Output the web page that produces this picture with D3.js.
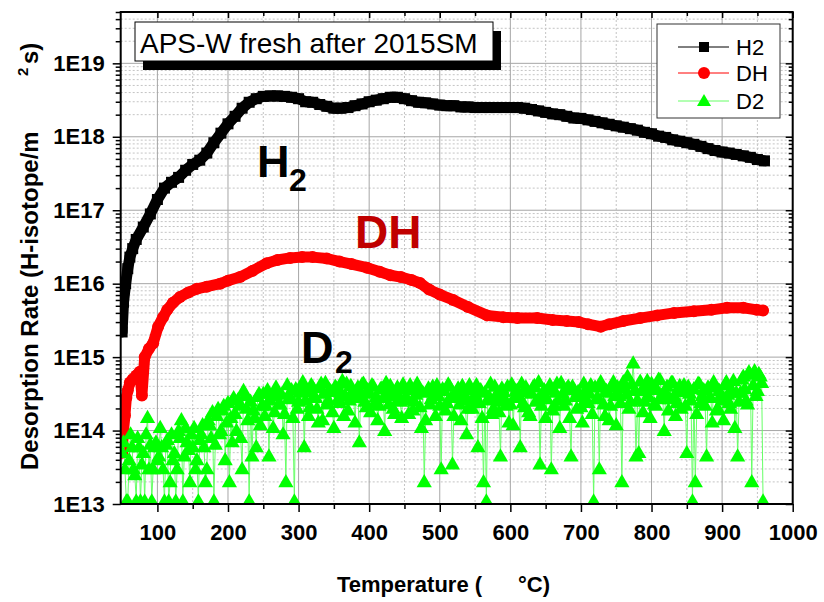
<!DOCTYPE html>
<html><head><meta charset="utf-8">
<script src="https://cdn.jsdelivr.net/npm/d3@7"></script>
<style>body{margin:0;background:#fff;} svg{display:block;font-family:Arial,"Liberation Sans",sans-serif;}</style>
</head><body><svg id="c" width="824" height="602"></svg>
<script>
// ---------- data ----------
const h2Temp = [50,52,55,58,61,65,70,80,90,100,110,120,130,140,150,160,170,180,190,200,210,220,230,240,250,260,270,280,290,300,310,320,330,340,350,360,370,380,390,400,410,420,430,440,450,460,470,480,490,500,510,520,530,540,550,560,570,580,590,600,610,620,630,640,650,660,670,680,690,700,710,720,730,740,750,760,770,780,790,800,810,820,830,840,850,860,870,880,890,900,910,920,930,940,950,960];
const h2Rate = [2.2e15,5.6e15,1.0e16,1.6e16,2.3e16,3.0e16,4.0e16,5.9e16,8.9e16,1.4e17,2.0e17,2.4e17,2.8e17,3.5e17,4.2e17,4.8e17,6.0e17,8.3e17,1.12e18,1.5e18,1.9e18,2.45e18,2.95e18,3.3e18,3.55e18,3.6e18,3.6e18,3.55e18,3.45e18,3.3e18,3.0e18,2.95e18,2.75e18,2.6e18,2.45e18,2.45e18,2.5e18,2.65e18,2.8e18,3.0e18,3.15e18,3.3e18,3.45e18,3.45e18,3.3e18,3.1e18,2.95e18,2.9e18,2.8e18,2.7e18,2.65e18,2.65e18,2.55e18,2.55e18,2.5e18,2.5e18,2.5e18,2.5e18,2.5e18,2.5e18,2.5e18,2.45e18,2.35e18,2.25e18,2.15e18,2.05e18,2.0e18,1.9e18,1.8e18,1.78e18,1.7e18,1.62e18,1.55e18,1.48e18,1.41e18,1.35e18,1.29e18,1.23e18,1.15e18,1.1e18,1.02e18,9.8e17,9.1e17,8.7e17,8.3e17,7.9e17,7.4e17,6.9e17,6.5e17,6.2e17,6.0e17,5.75e17,5.5e17,5.25e17,4.9e17,4.7e17];

const dhTemp = [50,52,54,56,58,61,65,70,75,78,82,88,94,101,108,114,122,132,144,156,170,189,200,217,235,255,270,288,305,320,340,358,375,397,415,430,445,460,472,485,500,519,540,567,590,610,638,660,680,697,710,728,740,760,784,808,832,860,885,907,930,949,958];
const dhRate = [5.0e13,1.0e14,1.6e14,2.8e14,3.5e14,4.5e14,5.0e14,5.6e14,6.3e14,3.0e14,1.0e15,1.3e15,1.55e15,2.6e15,3.5e15,4.4e15,5.5e15,6.6e15,7.6e15,8.5e15,9.1e15,1.0e16,1.1e16,1.23e16,1.5e16,1.9e16,2.1e16,2.24e16,2.3e16,2.3e16,2.2e16,2.0e16,1.85e16,1.65e16,1.45e16,1.3e16,1.23e16,1.12e16,1.02e16,8.3e15,7.1e15,6.0e15,4.8e15,3.7e15,3.5e15,3.4e15,3.4e15,3.2e15,3.1e15,3.0e15,2.8e15,2.6e15,2.8e15,3.1e15,3.4e15,3.7e15,4.0e15,4.2e15,4.4e15,4.7e15,4.7e15,4.4e15,4.3e15];

// D2 readings (two interleaved sets of the same measured series)
const d2TempA = [50,54,58,62,66,70,74,78,82,86,90,94,98,102,106,110,114,118,122,126,130,134,138,142,146,
150,154,158,162,166,170,174,178,182,186,190,194,198,202,206,210,214,218,222,226,230,234,238,242,246,
250,254,258,262,266,270,274,278,282,286,290,294,298,302,306,310,314,318,322,326,330,334,338,342,346,
350,354,358,362,366,370,374,378,382,386,390,394,398,402,406,410,414,418,422,426,430,434,438,442,446,
450,454,458,462,466,470,474,478,482,486,490,494,498,502,506,510,514,518,522,526,530,534,538,542,546,
550,554,558,562,566,570,574,578,582,586,590,594,598,602,606,610,614,618,622,626,630,634,638,642,646,
650,654,658,662,666,670,674,678,682,686,690,694,698,702,706,710,714,718,722,726,730,734,738,742,746,
750,754,758,762,766,770,774,778,782,786,790,794,798,802,806,810,814,818,822,826,830,834,838,842,846,
850,854,858,862,866,870,874,878,882,886,890,894,898,902,906,910,914,918,922,926,930,934,938,942,946,950,954,958];
const d2RateA = [5e13,3e13,1.1e13,9e13,3e13,1.1e13,6e13,3.5e13,1.1e13,1.5e14,6.5e13,3e13,7e13,4.5e13,6e13,1.1e13,7.5e13,2e13,4e13,1.1e13,1.0e14,1.4e14,4.5e13,7e13,2e13,
6e13,3e13,1.1e13,9e13,6e13,3e13,1.2e14,1.8e14,6.5e13,2.0e14,1.0e14,2.2e14,1.3e14,2e13,7e13,1.7e14,2.6e14,8e13,3.5e14,2.0e14,1.1e13,4.5e13,1.5e14,2.9e14,1.2e14,
3.2e14,2.2e14,4.5e13,3.0e14,1.8e14,3.4e14,2.3e14,9e13,2e13,2.7e14,3.6e14,1.1e13,2.0e14,3.3e14,4.6e14,2.6e14,1.6e14,4.2e14,3.0e14,2.0e14,3.8e14,1.4e14,4.5e14,2.6e14,3.4e14,
1.1e14,3.8e14,2.4e14,4.8e14,3.0e14,1.9e14,4.1e14,2.8e14,3.5e14,7e13,4.3e14,2.5e14,3.6e14,1.8e14,4.0e14,2.9e14,2.2e14,3.8e14,1.0e14,3.3e14,4.1e14,2.0e14,3.5e14,2.7e14,1.5e14,
3.7e14,2.6e14,4.2e14,1.9e14,3.1e14,3.9e14,1.1e14,2e13,3.4e14,2.3e14,4.0e14,1.6e14,3.0e14,3e13,3.5e14,2.4e14,4.0e14,3.5e13,2.8e14,3.8e14,1.4e14,2.6e14,9e13,4.2e14,2.0e14,
3.1e14,6e13,3.6e14,2e13,1.1e13,2.9e14,1.7e14,4.0e14,2.5e14,4.5e13,3.4e14,2.2e14,1.3e14,4.3e14,2.8e14,3.5e14,6e13,2.4e14,3.9e14,1.8e14,3.2e14,4.1e14,2.6e14,3.5e13,3.0e14,
1.5e14,3.7e14,3e13,2.2e14,4.4e14,1.1e14,3.2e14,2.6e14,4.0e14,4.5e13,3.6e14,2.0e14,3.0e14,1.3e14,3.5e14,2.4e14,4.2e14,1.1e13,2.7e14,3e13,4.0e14,1.6e14,3.3e14,2.2e14,4.6e14,
1.2e14,3.0e14,2e13,3.8e14,5.5e14,2.5e14,8.3e14,4.5e13,5e13,3.5e14,2.5e14,4.8e14,1.5e14,3.7e14,2.2e14,5.0e14,3.0e14,1.0e14,4.0e14,2.7e14,4.5e14,1.6e14,3.4e14,2.0e14,4.2e14,
5e13,3.2e14,1.1e13,2e13,4.4e14,2.4e14,3.6e14,4.5e13,2.8e14,1.3e14,4.0e14,2.0e14,3.0e14,1.4e14,4.6e14,2.4e14,3.5e14,1.1e14,4.5e13,3.3e14,5.5e14,2.6e14,6.3e14,2e13,6.5e14,3.5e14,5.5e14,1.1e13];
const d2TempB = [52,56,60,64,68,72,76,80,84,88,92,96,100,104,108,112,116,120,124,128,132,136,140,144,148,
152,156,160,164,168,172,176,180,184,188,192,196,200,204,208,212,216,220,224,228,232,236,240,244,248,
252,256,260,264,268,272,276,280,284,288,292,296,300,304,308,312,316,320,324,328,332,336,340,344,348,
352,356,360,364,368,372,376,380,384,388,392,396,400,404,408,412,416,420,424,428,432,436,440,444,448,
452,456,460,464,468,472,476,480,484,488,492,496,500,504,508,512,516,520,524,528,532,536,540,544,548,
552,556,560,564,568,572,576,580,584,588,592,596,600,604,608,612,616,620,624,628,632,636,640,644,648,
652,656,660,664,668,672,676,680,684,688,692,696,700,704,708,712,716,720,724,728,732,736,740,744,748,
752,756,760,764,768,772,776,780,784,788,792,796,800,804,808,812,816,820,824,828,832,836,840,844,848,
852,856,860,864,868,872,876,880,884,888,892,896,900,904,908,912,916,920,924,928,932,936,940,944,948,952,956];
const d2RateB = [7e13,1.1e13,4e13,6e13,2.5e13,8e13,1.1e13,5e13,9e13,3e13,1.1e13,6e13,4e13,1.1e14,3e13,6.5e13,1.1e13,9e13,5e13,3e13,8e13,1.1e13,1.1e14,5.5e13,9e13,
1.1e14,4e13,7.5e13,1.2e14,2e13,1.4e14,8e13,1.1e13,1.6e14,9e13,1.9e14,4e13,2.4e14,1.5e14,2.8e14,1.0e14,2.2e14,3e13,3.0e14,1.4e14,2.5e14,1.9e14,6e13,3.2e14,2.2e14,
1.6e14,3.6e14,2.6e14,1.1e14,3.9e14,2.3e14,3.1e14,1.7e14,4.2e14,2.9e14,1.5e14,3.7e14,2.5e14,4.0e14,6e13,3.4e14,2.1e14,3.9e14,2.8e14,1.3e14,4.4e14,3.2e14,2.3e14,3.6e14,1.8e14,
4.0e14,2.7e14,3.3e14,1.6e14,4.4e14,2.6e14,3.4e14,1.3e14,3.9e14,2.9e14,4.4e14,2.1e14,3.2e14,4.2e14,2.4e14,1.4e14,3.7e14,2.8e14,4.5e14,2.3e14,3.0e14,1.7e14,3.9e14,2.5e14,4.3e14,
2.9e14,1.7e14,3.6e14,2.5e14,4.4e14,2.1e14,3.3e14,1.4e14,3.8e14,2.7e14,3.1e14,4.2e14,2.2e14,3.7e14,1.9e14,4.3e14,2.8e14,1.6e14,3.4e14,2.3e14,4.1e14,3.0e14,2.0e14,3.6e14,2.7e14,
4.2e14,2.4e14,1.5e14,3.3e14,2.6e14,4.4e14,2.0e14,3.1e14,1.8e14,3.8e14,2.7e14,4.0e14,2.3e14,1.2e14,3.5e14,2.8e14,4.4e14,2.1e14,3.4e14,1.6e14,3.9e14,2.5e14,4.6e14,2.2e14,3.6e14,
2.7e14,4.2e14,1.9e14,3.3e14,2.6e14,4.5e14,2.2e14,3.7e14,1.5e14,4.0e14,2.9e14,3.4e14,2.1e14,4.4e14,2.6e14,3.2e14,1.7e14,3.9e14,2.8e14,4.6e14,2.3e14,3.5e14,1.4e14,4.1e14,3.0e14,
3.9e14,2.4e14,4.6e14,3.1e14,2.0e14,4.3e14,3.5e14,2.6e14,4.7e14,1.8e14,3.8e14,2.9e14,4.4e14,2.3e14,3.6e14,4.9e14,2.7e14,3.3e14,1.9e14,4.5e14,3.0e14,2.4e14,4.1e14,3.4e14,2.2e14,
4.0e14,2.6e14,3.7e14,1.7e14,4.3e14,3.0e14,2.2e14,3.9e14,2.8e14,4.6e14,1.9e14,3.5e14,2.6e14,4.2e14,3.1e14,2.0e14,4.8e14,3.3e14,2.5e14,5.0e14,3.7e14,2.3e14,5.8e14,4.2e14,3.0e14,6.0e14,4.5e14];

const xTickValues = [100,200,300,400,500,600,700,800,900,1000];
const xMinorValues = [150,250,350,450,550,650,750,850,950];
const yTickValues = [1e13,1e14,1e15,1e16,1e17,1e18,1e19];
const yTickLabels = ["1E13","1E14","1E15","1E16","1E17","1E18","1E19"];
const seriesNames = ["H2","DH","D2"];
const seriesColors = ["#000000","#ff0000","#00ff00"];

// ---------- layout ----------
const W=824,H=602;
const L=120.7,R=792.7,T=12,B=504;
const x=d3.scaleLinear().domain([48,1000]).range([L,R]);
const y=d3.scaleLog().domain([1e13,5e19]).range([B,T]);
const svg=d3.select("#c");
svg.append("rect").attr("width",W).attr("height",H).attr("fill","#fff");

const yMinor=[];
yTickValues.forEach(d=>{for(let k=2;k<=9;k++){const v=k*d; if(v<=5e19) yMinor.push(v);}});

// grid
const grid=svg.append("g");
grid.selectAll(".gmy").data(yMinor).join("line")
  .attr("x1",L).attr("x2",R).attr("y1",d=>y(d)).attr("y2",d=>y(d))
  .attr("stroke","#c4c4c4").attr("stroke-width",1).attr("stroke-dasharray","2,2");
grid.selectAll(".gmx").data(xMinorValues).join("line")
  .attr("y1",T).attr("y2",B).attr("x1",d=>x(d)).attr("x2",d=>x(d))
  .attr("stroke","#c4c4c4").attr("stroke-width",1).attr("stroke-dasharray","2,2");
grid.selectAll(".gMy").data(yTickValues).join("line")
  .attr("x1",L).attr("x2",R).attr("y1",d=>y(d)).attr("y2",d=>y(d))
  .attr("stroke","#a6a6a6").attr("stroke-width",1);
grid.selectAll(".gMx").data(xTickValues).join("line")
  .attr("y1",T).attr("y2",B).attr("x1",d=>x(d)).attr("x2",d=>x(d))
  .attr("stroke","#a6a6a6").attr("stroke-width",1);

svg.append("defs").append("clipPath").attr("id","clip")
  .append("rect").attr("x",L).attr("y",T).attr("width",R-L).attr("height",B-T);
const plot=svg.append("g").attr("clip-path","url(#clip)");

function pts(tArr,vArr){return tArr.map((t,i)=>({t:t,v:vArr[i]}));}
const line=d3.line().x(d=>x(d.t)).y(d=>y(d.v));

// H2
const h2=pts(h2Temp,h2Rate);
plot.append("path").datum(h2).attr("d",line).attr("fill","none")
  .attr("stroke","#000").attr("stroke-width",11).attr("stroke-linejoin","round").attr("stroke-linecap","round");
plot.selectAll(".h2m").data(h2).join("rect")
  .attr("x",d=>x(d.t)-5.5).attr("y",d=>y(d.v)-5.5).attr("width",11).attr("height",11).attr("fill","#000");

// DH
const dh=pts(dhTemp,dhRate);
plot.append("path").datum(dh).attr("d",line).attr("fill","none")
  .attr("stroke","#ff0000").attr("stroke-width",11).attr("stroke-linejoin","round").attr("stroke-linecap","round");
plot.selectAll(".dhm").data(dh).join("circle")
  .attr("cx",d=>x(d.t)).attr("cy",d=>y(d.v)).attr("r",6).attr("fill","#ff0000");

// D2
const d2=pts(d2TempA,d2RateA).concat(pts(d2TempB,d2RateB)).sort((a,b)=>a.t-b.t);
plot.append("path").datum(d2).attr("d",line).attr("fill","none")
  .attr("stroke","#66ff66").attr("stroke-width",1);
const tri=d3.symbol().type(d3.symbolTriangle).size(100);
plot.selectAll(".d2m").data(d2).join("path")
  .attr("d",tri).attr("transform",d=>`translate(${x(d.t)},${y(d.v)+1})`).attr("fill","#00ff00");

// axes
const fontTick="bold 22px Arial, 'Liberation Sans', sans-serif";
const axB=svg.append("g").attr("transform",`translate(0,${B})`)
  .call(d3.axisBottom(x).tickValues(xTickValues).tickSize(8).tickPadding(12).tickFormat(d3.format("d")));
const axBm=svg.append("g").attr("transform",`translate(0,${B})`)
  .call(d3.axisBottom(x).tickValues(xMinorValues).tickSize(5).tickFormat(""));
const axT=svg.append("g").attr("transform",`translate(0,${T})`)
  .call(d3.axisBottom(x).tickValues(xTickValues).tickSize(6).tickFormat(""));
const axTm=svg.append("g").attr("transform",`translate(0,${T})`)
  .call(d3.axisBottom(x).tickValues(xMinorValues).tickSize(4).tickFormat(""));
const axL=svg.append("g").attr("transform",`translate(${L},0)`)
  .call(d3.axisLeft(y).tickValues(yTickValues).tickSize(8).tickPadding(8).tickFormat((d,i)=>yTickLabels[i]));
const axLm=svg.append("g").attr("transform",`translate(${L},0)`)
  .call(d3.axisLeft(y).tickValues(yMinor).tickSize(5).tickFormat(""));
const axR=svg.append("g").attr("transform",`translate(${R},0)`)
  .call(d3.axisLeft(y).tickValues(yTickValues).tickSize(7).tickFormat(""));
const axRm=svg.append("g").attr("transform",`translate(${R},0)`)
  .call(d3.axisLeft(y).tickValues(yMinor).tickSize(4).tickFormat(""));
[axB,axBm,axT,axTm,axL,axLm,axR,axRm].forEach(g=>{
  g.select(".domain").remove();
  g.selectAll("line").attr("stroke","#000").attr("stroke-width",1.5);
  g.selectAll("text").style("font",fontTick).attr("fill","#000");
});

svg.append("rect").attr("x",L).attr("y",T).attr("width",R-L).attr("height",B-T)
  .attr("fill","none").attr("stroke","#000").attr("stroke-width",2);

// axis titles
const xt=svg.append("text").attr("y",592).style("font","bold 22px Arial, 'Liberation Sans', sans-serif").attr("fill","#000");
xt.append("tspan").attr("x",337).text("Temperature (");
xt.append("tspan").attr("x",518).text("°C)");
const yt=svg.append("text").attr("transform","translate(38,0) rotate(-90)")
  .style("font","bold 24px Arial, 'Liberation Sans', sans-serif").attr("fill","#000");
yt.append("tspan").attr("x",-470).text("Desorption Rate (H-isotope/m");
yt.append("tspan").attr("x",-76).attr("dy",-10).style("font-size","15px").text("2");
yt.append("tspan").attr("x",-64).attr("dy",10).text("s)");

// title box
svg.append("rect").attr("x",143).attr("y",31).attr("width",358).attr("height",39).attr("fill","#000");
svg.append("rect").attr("x",135).attr("y",22).attr("width",358).attr("height",39)
  .attr("fill","#fff").attr("stroke","#000").attr("stroke-width",1);
svg.append("text").attr("x",140).attr("y",53).style("font","28px Arial, 'Liberation Sans', sans-serif")
  .attr("fill","#000").text("APS-W fresh after 2015SM");

// legend
const lg=svg.append("g");
lg.append("rect").attr("x",657).attr("y",24).attr("width",123).attr("height",94)
  .attr("fill","#fff").attr("stroke","#333").attr("stroke-width",1);
const ly=[47,73,101];
seriesNames.forEach((n,i)=>{
  lg.append("line").attr("x1",678).attr("x2",729).attr("y1",ly[i]).attr("y2",ly[i])
    .attr("stroke",i===2?"#66ff66":seriesColors[i]).attr("stroke-width",1);
  if(i===0) lg.append("rect").attr("x",699).attr("y",ly[i]-5).attr("width",10).attr("height",10).attr("fill",seriesColors[i]);
  if(i===1) lg.append("circle").attr("cx",704).attr("cy",ly[i]).attr("r",6).attr("fill",seriesColors[i]);
  if(i===2) lg.append("path").attr("d",d3.symbol().type(d3.symbolTriangle).size(85)()).attr("transform",`translate(704,${ly[i]+1})`).attr("fill",seriesColors[i]);
  lg.append("text").attr("x",736).attr("y",ly[i]+8).style("font","22px Arial, 'Liberation Sans', sans-serif").attr("fill","#000").text(n);
});

// annotations
const annFont="bold 45px Arial, 'Liberation Sans', sans-serif";
const subFont="bold 32px Arial, 'Liberation Sans', sans-serif";
svg.append("text").attr("x",257).attr("y",177).style("font",annFont).attr("fill","#000").text("H");
svg.append("text").attr("x",289).attr("y",191).style("font",subFont).attr("fill","#000").text("2");
svg.append("text").attr("x",355).attr("y",248).style("font","bold 46px Arial, 'Liberation Sans', sans-serif").attr("fill","#c00000").text("DH");
svg.append("text").attr("x",301).attr("y",363).style("font",annFont).attr("fill","#000").text("D");
svg.append("text").attr("x",335).attr("y",373).style("font",subFont).attr("fill","#000").text("2");
</script></body></html>
